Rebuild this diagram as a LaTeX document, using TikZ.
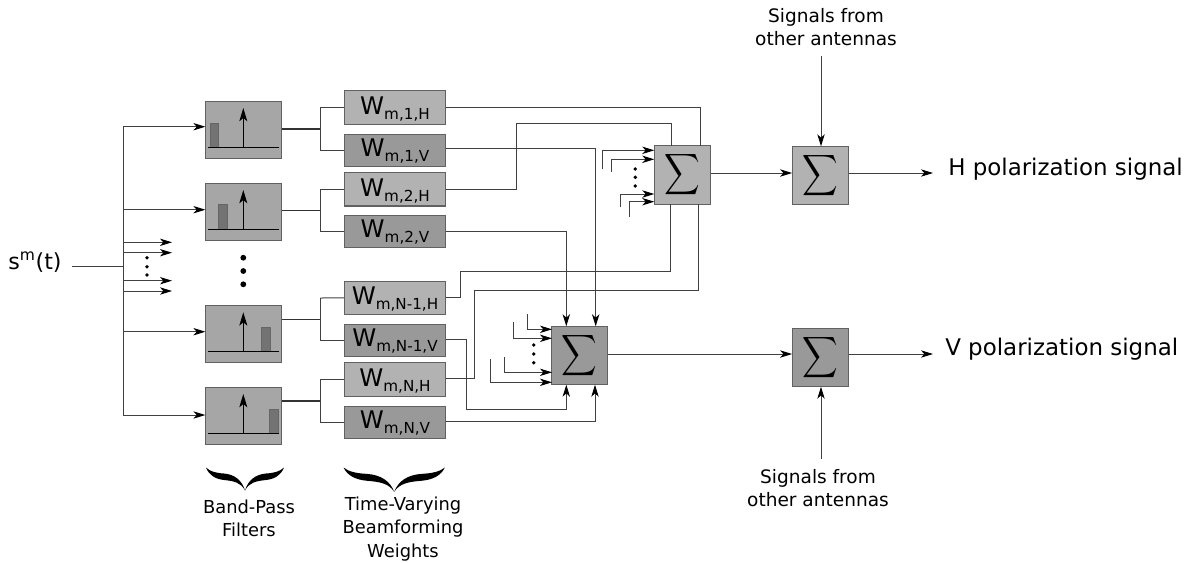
\documentclass[tikz,border=0pt]{standalone}
\usepackage{fontspec}
\setmainfont{DejaVu Sans}
\usepackage{amsmath}
\usepackage{graphicx}
\usetikzlibrary{arrows.meta}
\tikzset{
 filterbox/.style={draw=black!62,fill=black!35,line width=.8pt,minimum width=56.8pt,minimum height=43pt,inner sep=0},
 wbase/.style={draw=black!62,line width=.8pt,minimum width=76pt,inner sep=0,font=\fontsize{18.2}{20}\selectfont},
 wh/.style={wbase,fill=black!30,text height=12pt,text depth=1.5pt},
 wv/.style={wbase,fill=black!40,text height=10.5pt,text depth=1.5pt},
 sumh/.style={draw=black!62,fill=black!30,line width=.8pt,minimum width=41.8pt,minimum height=43.8pt,inner sep=0},
 sumv/.style={draw=black!62,fill=black!40,line width=.8pt,minimum width=41.8pt,minimum height=43.8pt,inner sep=0},
 wire/.style={line width=.75pt,draw=black!75},
 thickwire/.style={line width=1.1pt,draw=black!80},
 arr/.style={wire,-{Stealth[length=9pt,width=5.5pt,inset=2.5pt,black]}},
 lbl/.style={inner sep=0,align=center,font=\fontsize{13.9}{17.3}\selectfont},
 lblb/.style={inner sep=0,align=center,font=\fontsize{13.4}{17.3}\selectfont},
 big/.style={inner sep=0,anchor=west,font=\fontsize{17.2}{21}\selectfont},
}
\newcommand{\wlab}[2]{W\raisebox{-3.75pt}{\fontsize{11.4}{13}\selectfont m,#1,#2}}
\newcommand{\sumg}{\scalebox{1.85}[2.15]{$\displaystyle\sum$}}
\newcommand{\halfbrace}{(0,0) .. controls (3,7.5) and (9,11.5) .. (18,12.5) .. controls (28,13.5) and (35,15) .. (39,23) .. controls (36,13) and (29,7) .. (18,6) .. controls (10,5.5) and (4,4) .. (0,0) -- cycle}
\begin{document}
\begin{tikzpicture}[x=.75pt,y=-.75pt]
\useasboundingbox (0,0) rectangle (1189,562);
% filters
\node[filterbox] (f1) at (243.8,130) {};
\node[filterbox] (f2) at (243.8,212) {};
\node[filterbox] (f3) at (243.8,334.2) {};
\node[filterbox] (f4) at (243.8,415.8) {};
% filter contents
\foreach \base/\top/\xa/\xb/\yr in {147.3/108/210/218.7/123.3, 229.3/190/218.3/227.7/204.3, 351.7/312.3/261.3/270/327.3, 433.3/394/269.3/278.7/409.3}{
 \fill[black!55,draw=black!60] (\xa,\base) rectangle (\xb,\yr);
 \draw[line width=.75pt,black] (208.3,\base) -- (278.7,\base);
 \draw[line width=.75pt,black,-{Stealth[length=10pt,width=6pt,inset=2.5pt]}] (243.3,\base) -- (243.3,\top);
}
% W boxes
\node[wh,minimum height=25.5pt] (w1h) at (395,107.3) {\wlab{1}{H}};
\node[wv,minimum height=23.8pt] (w1v) at (395,150.2) {\wlab{1}{V}};
\node[wh,minimum height=25.3pt] (w2h) at (395,189.1) {\wlab{2}{H}};
\node[wv,minimum height=23.5pt] (w2v) at (395,231.6) {\wlab{2}{V}};
\node[wh,minimum height=25.3pt] (wah) at (395,297.9) {\wlab{N-1}{H}};
\node[wv,minimum height=23.8pt] (wav) at (395,340.8) {\wlab{N-1}{V}};
\node[wh,minimum height=25.5pt] (wnh) at (395,379.7) {\wlab{N}{H}};
\node[wv,minimum height=24pt] (wnv) at (395,422.3) {\wlab{N}{V}};
% sums
\node[sumh] (s1) at (682.2,175) {\sumg};
\node[sumv] (s2) at (579.7,355.5) {\sumg};
\node[sumh] (s3) at (820.5,175.5) {\sumg};
\node[sumv] (s4) at (820.5,357.5) {\sumg};
% input
\node[inner sep=0,font=\fontsize{16.6}{20}\selectfont] (in) at (35,262) {s\textsuperscript{m}(t)};
\coordinate (inend) at (72,266.5);
\coordinate (bus) at (123,266.5);
\draw[wire] (inend) -- (bus);
\draw[wire] (123,126.7) -- (123,415);
\draw[arr] (123,126.7) -- (f1.west |- 0,126.7);
\draw[arr] (123,209.7) -- (f2.west |- 0,209.7);
\draw[arr] (123,331.7) -- (f3.west |- 0,331.7);
\draw[arr] (123,415) -- (f4.west |- 0,415);
\foreach \y in {242.3,252.7,280.7,291}{\draw[arr] (123,\y) -- (172,\y);}
\foreach \y in {257.7,266.7,275}{\fill (147,\y) circle (1.9);}
\foreach \y in {257.7,271,284.3}{\fill (243.3,\y) circle (2.9);}
% filter outs
\draw[thickwire] (f1.east |- 0,129) -- (320.3,129);
\draw[wire] (320.3,107.3) -- (320.3,150.2);
\draw[wire] (320.3,107.3) -- (w1h.west);
\draw[wire] (320.3,150.2) -- (w1v.west);
\draw[thickwire] (f2.east |- 0,210.3) -- (320.3,210.3);
\draw[wire] (320.3,189.1) -- (320.3,231.6);
\draw[wire] (320.3,189.1) -- (w2h.west);
\draw[wire] (320.3,231.6) -- (w2v.west);
\draw[thickwire] (f3.east |- 0,319.3) -- (320.3,319.3);
\draw[wire] (320.3,298) -- (320.3,340.8);
\draw[wire] (320.3,298) -- (wah.west);
\draw[wire] (320.3,340.8) -- (wav.west);
\draw[thickwire] (f4.east |- 0,401) -- (320.3,401);
\draw[wire] (320.3,379.7) -- (320.3,422.3);
\draw[wire] (320.3,379.7) -- (wnh.west);
\draw[wire] (320.3,422.3) -- (wnv.west);
% W to sums
\draw[wire] (w1h.east) -- (700,107.3) -- (700,146);
\draw[wire] (w2h.east) -- (516.3,189.1) -- (516.3,123.3) -- (671,123.3) -- (671,146);
\draw[arr] (w1v.east |- 0,148.7) -- (595.7,148.7) -- (595.7,326.3);
\draw[arr] (w2v.east) -- (566.3,231.6) -- (566.3,326.3);
\draw[wire] (wah.east) -- (460.7,297.9) -- (460.7,271) -- (670,271) -- (670,204.2);
\draw[wire] (wnh.east |- 0,378) -- (474.7,378) -- (474.7,290.7) -- (698.7,290.7) -- (698.7,204.2);
\draw[arr] (wav.east |- 0,339.3) -- (466.3,339.3) -- (466.3,409.3) -- (566.3,409.3) -- (566.3,384.7);
\draw[arr] (wnv.east |- 0,421) -- (595,421) -- (595,384.7);
% small inputs s1
\draw[arr] (602.3,169.3) -- (602.3,150.3) -- (654.3,150.3);
\draw[arr] (611.7,172.3) -- (611.7,159.3) -- (654.3,159.3);
\draw[arr] (620.7,207.3) -- (620.7,194) -- (654.3,194);
\draw[arr] (629.3,216.7) -- (629.3,201.7) -- (654.3,201.7);
\foreach \y in {169,177.3,186}{\fill (635.3,\y) circle (1.9);}
% small inputs s2
\draw[arr] (527.7,314.3) -- (527.7,329.3) -- (552,329.3);
\draw[arr] (513.3,322.3) -- (513.3,338.3) -- (552,338.3);
\draw[arr] (504,357.3) -- (504,372.3) -- (552,372.3);
\draw[arr] (490.3,359) -- (490.3,382.3) -- (552,382.3);
\foreach \y in {345,354,362.7}{\fill (533.7,\y) circle (1.9);}
% outputs
\draw[arr] (s1.east |- 0,173) -- (s3.west |- 0,173);
\draw[arr] (s2.east |- 0,354) -- (s4.west |- 0,354);
\coordinate (hout) at (933,173);
\coordinate (vout) at (933,354);
\draw[arr] (s3.east |- 0,173) -- (hout);
\draw[arr] (s4.east |- 0,354) -- (vout);
\node[big] (hl) at (948,169.5) {H polarization signal};
\node[big] (vl) at (945,349.5) {V polarization signal};
\node[lbl] (top) at (826,27) {Signals from\\other antennas};
\node[lbl] (bot) at (818,488) {Signals from\\other antennas};
\coordinate (tc) at (821,56);
\coordinate (bc) at (821,459);
\draw[arr] (tc) -- (821,146.3);
\draw[arr] (bc) -- (821,386.7);
% braces
\begin{scope}[shift={(206,467.5)}]
 \fill \halfbrace;
 \begin{scope}[shift={(78,0)},xscale=-1]\fill \halfbrace;\end{scope}
\end{scope}
\begin{scope}[shift={(343.5,467.5)},xscale=1.3,yscale=1.06]
 \fill \halfbrace;
 \begin{scope}[shift={(78,0)},xscale=-1]\fill \halfbrace;\end{scope}
\end{scope}
\node[lblb] (bp) at (249,518.5) {Band-Pass\\Filters};
\node[lblb] (tv) at (403,529) {Time-Varying\\Beamforming\\Weights};
\end{tikzpicture}
\end{document}
